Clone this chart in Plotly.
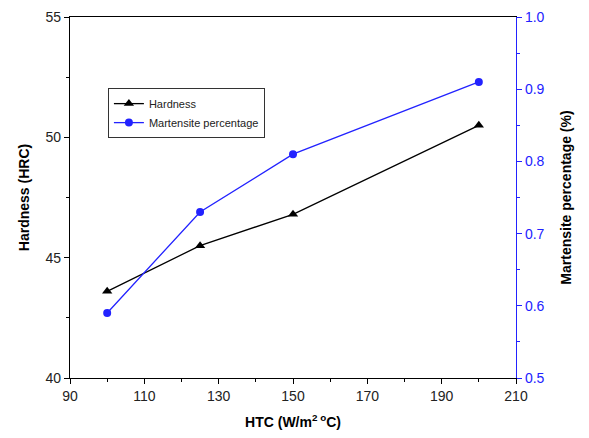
import plotly.graph_objects as go

htc = [100, 125, 150, 200]
hardness = [43.6, 45.5, 46.8, 50.5]
martensite = [0.59, 0.73, 0.81, 0.91]

x_ticks = [90, 110, 130, 150, 170, 190, 210]
y_ticks = [40, 45, 50, 55]
y2_ticks = [0.5, 0.6, 0.7, 0.8, 0.9, 1.0]

BLUE = "#2222ff"
FONT = "Liberation Sans, Arial, sans-serif"

fig = go.Figure()
fig.add_trace(go.Scatter(
    x=htc, y=hardness, name="Hardness", mode="lines+markers",
    line=dict(color="black", width=1.3),
    marker=dict(symbol="triangle-up", size=9, color="black"),
))
fig.add_trace(go.Scatter(
    x=htc, y=martensite, name="Martensite percentage", mode="lines+markers",
    line=dict(color=BLUE, width=1.3),
    marker=dict(symbol="circle", size=8, color=BLUE),
    yaxis="y2",
))

fig.update_layout(
    width=589, height=438,
    margin=dict(l=62, r=81, t=9, b=68),
    paper_bgcolor="white", plot_bgcolor="white",
    font=dict(family=FONT, size=14, color="#222"),
    showlegend=True,
    legend=dict(
        x=0.085, y=0.803, xanchor="left", yanchor="top",
        bordercolor="#333", borderwidth=1, bgcolor="white",
        font=dict(size=11, color="#222"),
        tracegroupgap=0, itemwidth=30,
    ),
    xaxis=dict(
        range=[90, 210], tickvals=x_ticks, ticktext=[str(v) for v in x_ticks],
        showgrid=False, zeroline=False, automargin=False,
        showline=True, linecolor="black", linewidth=1.2, mirror=True,
        ticks="outside", ticklen=5, tickcolor="black",
        minor=dict(dtick=10, tick0=90, ticks="outside", ticklen=3, tickcolor="black"),
        title=dict(text="<b>HTC (W/m<sup>2 o</sup>C)</b>", font=dict(size=14, color="black"), standoff=14),
        tickfont=dict(size=14, color="#222"),
    ),
    yaxis=dict(
        range=[40, 55], tickvals=y_ticks,
        showgrid=False, zeroline=False, automargin=False,
        showline=True, linecolor="black", linewidth=1.2,
        ticks="outside", ticklen=5, tickcolor="black",
        minor=dict(dtick=2.5, tick0=40, ticks="outside", ticklen=3, tickcolor="black"),
        title=dict(text="<b>Hardness (HRC)</b>", font=dict(size=14, color="black"), standoff=12),
        tickfont=dict(size=14, color="#222"),
    ),
    yaxis2=dict(
        range=[0.5, 1.0], tickvals=y2_ticks, ticktext=["0.5", "0.6", "0.7", "0.8", "0.9", "1.0"],
        overlaying="y", side="right",
        showgrid=False, zeroline=False, automargin=False,
        showline=True, linecolor=BLUE, linewidth=1.2,
        ticks="outside", ticklen=5, tickcolor=BLUE,
        minor=dict(dtick=0.05, tick0=0.5, ticks="outside", ticklen=3, tickcolor=BLUE),
        title=dict(text="<b>Martensite percentage (%)</b>", font=dict(size=14, color="black"), standoff=17),
        tickfont=dict(size=14, color=BLUE),
    ),
)

fig.write_html("out.html")
